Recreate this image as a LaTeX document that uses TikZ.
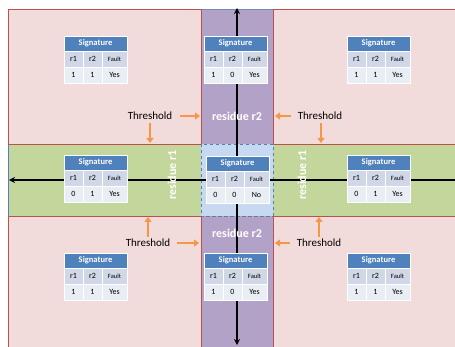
\documentclass[tikz,border=0pt]{standalone}
\usepackage{fontspec}
\setmainfont{Carlito}
\usetikzlibrary{calc,arrows.meta}

\definecolor{cellpink}{HTML}{F2DCDB}
\definecolor{edgered}{HTML}{C0504D}
\definecolor{bandgreen}{HTML}{C3D69B}
\definecolor{bandpurple}{HTML}{B3A2C7}
\definecolor{cellblue}{HTML}{C6D9F1}
\definecolor{edgeblue}{HTML}{4F81BD}
\definecolor{rowone}{HTML}{D0D8E8}
\definecolor{rowtwo}{HTML}{E9EDF4}
\definecolor{throrange}{HTML}{F79646}

% one signature table, #2 = top left corner
\newcommand{\sigtable}[5]{%
  \node[sighead, anchor=north west] (#1-h) at (#2) {Signature};
  \node[sigkey, minimum width=19pt, anchor=north west] (#1-k1) at (#1-h.south west) {r1};
  \node[sigkey, minimum width=19pt, anchor=north west] (#1-k2) at (#1-k1.north east) {r2};
  \node[sigkey, minimum width=25pt, anchor=north west, font=\fontsize{6.5}{7}\selectfont] (#1-k3) at (#1-k2.north east) {Fault};
  \node[sigval, minimum width=19pt, anchor=north west] (#1-v1) at (#1-k1.south west) {#3};
  \node[sigval, minimum width=19pt, anchor=north west] (#1-v2) at (#1-v1.north east) {#4};
  \node[sigval, minimum width=25pt, anchor=north west] (#1-v3) at (#1-v2.north east) {#5};
}

\begin{document}
\begin{tikzpicture}[x=1pt, y=-1pt,
  sighead/.style={fill=edgeblue, draw=white, line width=0.8pt, inner sep=0pt, outer sep=0pt,
    minimum width=63pt, minimum height=15pt, text=white, font=\fontsize{8.5}{9}\selectfont\bfseries},
  sigkey/.style={fill=rowone, draw=white, line width=0.8pt, inner sep=0pt, outer sep=0pt,
    minimum height=16pt, font=\fontsize{8}{9}\selectfont},
  sigval/.style={fill=rowtwo, draw=white, line width=0.8pt, inner sep=0pt, outer sep=0pt,
    minimum height=16pt, font=\fontsize{8}{9}\selectfont},
  thr/.style={inner sep=1pt, font=\fontsize{11}{12}\selectfont},
  thrarr/.style={draw=throrange, line width=2pt, -{Triangle[length=5pt,width=7pt]}},
  bandtext/.style={text=white, font=\fontsize{12}{13}\selectfont\bfseries},
  axis/.style={line width=1.3pt, black}]
  \fill[white] (0,0) rectangle (455,347);
  \useasboundingbox (0,0) rectangle (455,347);

  % bands
  \fill[bandpurple] (201,9) rectangle (273,350);
  \draw[edgeblue!70!bandpurple, line width=0.6pt] (201,9) -- (273,9);
  \fill[bandgreen] (8,144) rectangle (460,216);
  \draw[edgeblue, line width=1pt] (8,144) -- (8,216);

  % fault regions
  \filldraw[fill=cellpink, draw=edgered, line width=0.8pt] (8,9) rectangle (201,144);
  \filldraw[fill=cellpink, draw=edgered, line width=0.8pt] (273,9) rectangle (460,144);
  \filldraw[fill=cellpink, draw=edgered, line width=0.8pt] (8,216) rectangle (201,350);
  \filldraw[fill=cellpink, draw=edgered, line width=0.8pt] (273,216) rectangle (460,350);
  \draw[edgered, dashed, line width=0.8pt] (8,144) -- (460,144) (8,216) -- (460,216);

  % no fault region
  \filldraw[fill=cellblue, draw=edgeblue, dashed, line width=0.9pt] (201,144) rectangle (273,216);

  % axes
  \coordinate (axtop) at (237,8);
  \coordinate (axbot) at (237,345);
  \coordinate (axleft) at (9,180);
  \coordinate (axright) at (456,180);
  \draw[axis, {Stealth[length=6pt,width=6pt]}-{Stealth[length=6pt,width=6pt]}] (axbot) -- (axtop);
  \draw[axis, -{Stealth[length=6pt,width=6pt]}] (axright) -- (axleft);

  % band labels
  \node[bandtext] (rtwoup) at (237,116) {residue r2};
  \node[bandtext] (rtwodown) at (237,233) {residue r2};
  \node[bandtext, rotate=90] (roneleft) at (172,175) {residue r1};
  \node[bandtext, rotate=90] (roneright) at (302,175) {residue r1};

  % tables
  \sigtable{tl}{64,36}{1}{1}{Yes}
  \sigtable{tm}{204,36}{1}{0}{Yes}
  \sigtable{tr}{347,36}{1}{1}{Yes}
  \sigtable{ml}{64,155}{0}{1}{Yes}
  \sigtable{mm}{206,156}{0}{0}{No}
  \sigtable{mr}{347,155}{0}{1}{Yes}
  \sigtable{bl}{64,253}{1}{1}{Yes}
  \sigtable{bm}{204,253}{1}{0}{Yes}
  \sigtable{br}{347,253}{1}{1}{Yes}

  % thresholds
  \node[thr] (thrtl) at (150,116) {Threshold};
  \node[thr] (thrtr) at (320,116) {Threshold};
  \node[thr] (thrbl) at (148,243) {Threshold};
  \node[thr] (thrbr) at (319,243) {Threshold};
  \coordinate (tlside) at (200,116);
  \coordinate (tlbase) at (150,143);
  \coordinate (trside) at (275,116);
  \coordinate (trbase) at (321,143);
  \coordinate (blside) at (199,243);
  \coordinate (bltop) at (148,217);
  \coordinate (brside) at (275,243);
  \coordinate (brtop) at (319,217);
  \draw[thrarr, shorten <=7pt] (thrtl) -- (tlside);
  \draw[thrarr, shorten <=2pt] (thrtl) -- (tlbase);
  \draw[thrarr, shorten <=6pt] (thrtr) -- (trside);
  \draw[thrarr, shorten <=2pt] (thrtr.south -| trbase) -- (trbase);
  \draw[thrarr, shorten <=6pt] (thrbl) -- (blside);
  \draw[thrarr, shorten <=1pt] (thrbl) -- (bltop);
  \draw[thrarr, shorten <=6pt] (thrbr) -- (brside);
  \draw[thrarr, shorten <=1pt] (thrbr) -- (brtop);
\end{tikzpicture}
\end{document}
